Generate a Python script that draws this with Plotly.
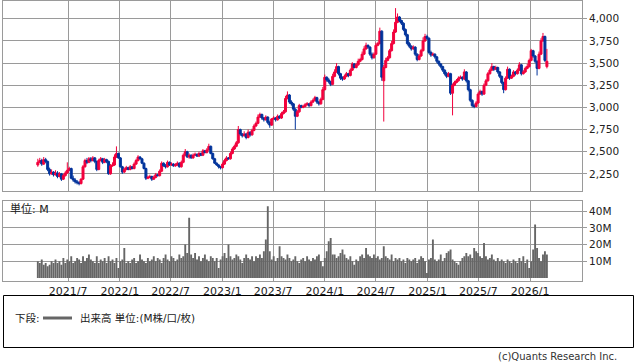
import plotly.graph_objects as go
import pandas as pd

W, H = 638, 362

start_week = "2021-03-15"

opens = [
    2350, 2380, 2400, 2360, 2410, 2390, 2300, 2250, 2270, 2240,
    2260, 2220, 2250, 2190, 2230, 2260, 2290, 2310, 2200, 2180,
    2160, 2150, 2140, 2190, 2330, 2400, 2380, 2420, 2400, 2430,
    2390, 2300, 2400, 2420, 2380, 2410, 2390, 2250, 2340, 2350,
    2440, 2480, 2430, 2330, 2270, 2300, 2320, 2300, 2330, 2310,
    2360, 2400, 2440, 2420, 2370, 2310, 2200, 2210, 2220, 2190,
    2210, 2240, 2230, 2280, 2370, 2340, 2330, 2380, 2350, 2360,
    2340, 2350, 2370, 2330, 2380, 2460, 2500, 2440, 2460, 2430,
    2460, 2470, 2450, 2480, 2460, 2510, 2490, 2520, 2560, 2480,
    2420, 2370, 2350, 2330, 2320, 2360, 2400, 2430, 2420, 2480,
    2530, 2560, 2600, 2750, 2700, 2680, 2700, 2660, 2720, 2690,
    2740, 2790, 2820, 2890, 2920, 2880, 2860, 2890, 2830, 2800,
    2870, 2880, 2860, 2900, 2880, 2930, 2950, 3100, 3140, 3060,
    3040, 2980, 2900, 2950, 3020, 3000, 3010, 3030, 3040, 3020,
    3060, 3080, 3110, 3060, 3040, 3090, 3200, 3340, 3310, 3290,
    3260, 3350, 3400, 3460, 3380, 3330, 3320, 3350, 3380, 3360,
    3420, 3490, 3450, 3480, 3520, 3540, 3600, 3660, 3700, 3680,
    3600, 3560, 3600, 3700, 3720, 3860, 3300, 3450, 3530, 3560,
    3640, 3720, 3850, 3960, 4020, 3980, 3950, 3880, 3820, 3720,
    3690, 3660, 3680, 3600, 3540, 3580, 3640, 3750, 3800, 3780,
    3620, 3590, 3600, 3570, 3520, 3490, 3460, 3420, 3380, 3350,
    3380, 3160, 3250, 3280, 3300, 3330, 3340, 3320, 3400, 3300,
    3200, 3080, 3020, 3010, 3050, 3150, 3180, 3150, 3250, 3300,
    3380, 3420, 3460, 3430, 3450, 3400, 3350, 3280, 3200, 3330,
    3430, 3330, 3350, 3400, 3380, 3420, 3480, 3380, 3400, 3440,
    3460, 3530, 3640, 3580, 3520, 3440, 3600, 3750, 3800, 3460,
]

highs = [
    2420, 2430, 2420, 2440, 2430, 2400, 2320, 2300, 2280, 2290,
    2280, 2270, 2260, 2250, 2280, 2380, 2330, 2320, 2230, 2200,
    2180, 2170, 2200, 2350, 2420, 2430, 2440, 2440, 2450, 2440,
    2400, 2420, 2440, 2430, 2430, 2420, 2400, 2360, 2380, 2470,
    2560, 2490, 2440, 2340, 2320, 2340, 2330, 2350, 2340, 2380,
    2420, 2460, 2450, 2430, 2380, 2320, 2230, 2240, 2230, 2230,
    2260, 2250, 2300, 2390, 2380, 2360, 2400, 2390, 2380, 2370,
    2370, 2390, 2380, 2400, 2480, 2530, 2510, 2480, 2470, 2480,
    2490, 2480, 2500, 2490, 2530, 2520, 2540, 2590, 2570, 2490,
    2430, 2380, 2360, 2340, 2380, 2420, 2450, 2440, 2500, 2550,
    2580, 2620, 2790, 2760, 2710, 2730, 2710, 2750, 2730, 2760,
    2810, 2840, 2920, 2940, 2930, 2890, 2910, 2900, 2850, 2880,
    2900, 2890, 2920, 2910, 2950, 2970, 3130, 3180, 3150, 3080,
    3050, 2990, 2970, 3040, 3030, 3030, 3050, 3060, 3050, 3080,
    3100, 3130, 3120, 3070, 3110, 3230, 3370, 3350, 3330, 3300,
    3380, 3430, 3500, 3470, 3390, 3350, 3370, 3400, 3390, 3440,
    3510, 3500, 3500, 3550, 3560, 3630, 3690, 3730, 3710, 3690,
    3620, 3620, 3730, 3740, 3900, 3870, 3480, 3560, 3580, 3660,
    3750, 3880, 4120, 4060, 4030, 3990, 3960, 3890, 3830, 3740,
    3700, 3700, 3690, 3610, 3600, 3660, 3790, 3830, 3820, 3790,
    3640, 3620, 3610, 3580, 3530, 3500, 3470, 3430, 3400, 3400,
    3390, 3270, 3300, 3320, 3350, 3360, 3350, 3430, 3410, 3310,
    3210, 3090, 3040, 3070, 3170, 3200, 3190, 3270, 3320, 3400,
    3440, 3500, 3470, 3470, 3460, 3410, 3360, 3290, 3350, 3460,
    3440, 3370, 3420, 3410, 3440, 3510, 3490, 3420, 3460, 3490,
    3550, 3660, 3650, 3590, 3530, 3630, 3780, 3840, 3810, 3660,
]

lows = [
    2330, 2370, 2340, 2350, 2370, 2280, 2230, 2240, 2220, 2230,
    2200, 2210, 2170, 2180, 2220, 2250, 2280, 2190, 2160, 2140,
    2130, 2120, 2130, 2180, 2320, 2360, 2370, 2380, 2390, 2370,
    2280, 2290, 2390, 2360, 2370, 2370, 2240, 2240, 2330, 2340,
    2430, 2420, 2320, 2250, 2260, 2290, 2290, 2290, 2300, 2300,
    2350, 2390, 2410, 2360, 2300, 2180, 2190, 2200, 2170, 2180,
    2200, 2220, 2220, 2270, 2330, 2310, 2320, 2340, 2340, 2330,
    2330, 2340, 2320, 2320, 2370, 2450, 2430, 2420, 2420, 2420,
    2450, 2440, 2440, 2450, 2450, 2480, 2480, 2510, 2470, 2410,
    2360, 2340, 2310, 2300, 2310, 2350, 2390, 2410, 2410, 2470,
    2520, 2550, 2590, 2680, 2660, 2670, 2640, 2650, 2670, 2680,
    2730, 2780, 2810, 2880, 2860, 2840, 2850, 2810, 2770, 2790,
    2860, 2840, 2850, 2870, 2870, 2920, 2940, 3090, 3040, 3020,
    2960, 2750, 2890, 2940, 2990, 2990, 3000, 3020, 3000, 3010,
    3050, 3070, 3040, 3020, 3030, 3080, 3190, 3290, 3270, 3240,
    3250, 3340, 3390, 3360, 3310, 3300, 3310, 3340, 3340, 3350,
    3410, 3440, 3440, 3470, 3510, 3530, 3590, 3650, 3660, 3580,
    3540, 3550, 3590, 3690, 3710, 3300, 2840, 3440, 3520, 3550,
    3630, 3710, 3840, 3950, 3960, 3930, 3860, 3800, 3700, 3670,
    3640, 3650, 3580, 3520, 3530, 3570, 3630, 3740, 3760, 3600,
    3570, 3580, 3550, 3500, 3470, 3440, 3400, 3360, 3330, 3340,
    3140, 2910, 3240, 3270, 3290, 3320, 3300, 3310, 3280, 3180,
    3060, 3000, 2990, 3000, 3040, 3140, 3130, 3140, 3240, 3290,
    3370, 3410, 3410, 3420, 3380, 3330, 3260, 3160, 3190, 3320,
    3310, 3320, 3340, 3360, 3370, 3410, 3360, 3370, 3390, 3430,
    3450, 3520, 3560, 3500, 3360, 3430, 3590, 3740, 3510, 3440,
]

closes = [
    2380, 2400, 2360, 2410, 2390, 2300, 2250, 2270, 2240, 2260,
    2220, 2250, 2190, 2230, 2260, 2290, 2310, 2200, 2180, 2160,
    2150, 2140, 2190, 2330, 2400, 2380, 2420, 2400, 2430, 2390,
    2300, 2400, 2420, 2380, 2410, 2390, 2250, 2340, 2350, 2440,
    2480, 2430, 2330, 2270, 2300, 2320, 2300, 2330, 2310, 2360,
    2400, 2440, 2420, 2370, 2310, 2200, 2210, 2220, 2190, 2210,
    2240, 2230, 2280, 2370, 2340, 2330, 2380, 2350, 2360, 2340,
    2350, 2370, 2330, 2380, 2460, 2500, 2440, 2460, 2430, 2460,
    2470, 2450, 2480, 2460, 2510, 2490, 2520, 2560, 2480, 2420,
    2370, 2350, 2330, 2320, 2360, 2400, 2430, 2420, 2480, 2530,
    2560, 2600, 2750, 2700, 2680, 2700, 2660, 2720, 2690, 2740,
    2790, 2820, 2890, 2920, 2880, 2860, 2890, 2830, 2800, 2870,
    2880, 2860, 2900, 2880, 2930, 2950, 3100, 3140, 3060, 3040,
    2980, 2900, 2950, 3020, 3000, 3010, 3030, 3040, 3020, 3060,
    3080, 3110, 3060, 3040, 3090, 3200, 3340, 3310, 3290, 3260,
    3350, 3400, 3460, 3380, 3330, 3320, 3350, 3380, 3360, 3420,
    3490, 3450, 3480, 3520, 3540, 3600, 3660, 3700, 3680, 3600,
    3560, 3600, 3700, 3720, 3860, 3340, 3450, 3530, 3560, 3640,
    3720, 3850, 3960, 4020, 3980, 3950, 3880, 3820, 3720, 3690,
    3660, 3680, 3600, 3540, 3580, 3640, 3750, 3800, 3780, 3620,
    3590, 3600, 3570, 3520, 3490, 3460, 3420, 3380, 3350, 3380,
    3160, 3250, 3280, 3300, 3330, 3340, 3320, 3400, 3300, 3200,
    3080, 3020, 3010, 3050, 3150, 3180, 3150, 3250, 3300, 3380,
    3420, 3460, 3430, 3450, 3400, 3350, 3280, 3200, 3330, 3430,
    3330, 3350, 3400, 3380, 3420, 3480, 3380, 3400, 3440, 3460,
    3530, 3640, 3580, 3520, 3440, 3600, 3750, 3800, 3530, 3520,
]

volumes_m = [
    10, 9, 11, 8, 9, 7, 8, 10, 9, 11,
    9, 10, 8, 12, 9, 11, 10, 13, 9, 10,
    12, 11, 9, 13, 10, 12, 14, 11, 10, 9,
    13, 9, 11, 10, 12, 9, 13, 10, 11, 9,
    12, 6, 10, 11, 18, 9, 10, 9, 11, 12,
    9, 10, 14, 11, 10, 9, 12, 10, 11, 13,
    10, 12, 11, 9, 12, 14, 11, 10, 13, 12,
    10, 11, 14, 12, 13, 20, 15, 36, 14, 12,
    15, 11, 13, 10, 12, 14, 11, 10, 13, 12,
    10, 12, 6, 11, 13, 15, 12, 20, 13, 11,
    12, 14, 13, 11, 9, 12, 14, 12, 11, 13,
    10, 13, 12, 14, 12, 16, 23, 43, 16, 11,
    13, 10, 12, 19, 13, 12, 11, 14, 12, 10,
    11, 13, 10, 9, 11, 12, 10, 13, 11, 10,
    12, 11, 13, 14, 10, 7, 12, 16, 22, 24,
    14, 14, 12, 13, 15, 17, 14, 12, 11, 13,
    10, 8, 11, 10, 13, 14, 12, 18, 14, 13,
    12, 14, 12, 13, 11, 12, 19, 13, 12, 11,
    14, 10, 12, 11, 12, 10, 11, 9, 12, 11,
    10, 11, 12, 9, 11, 13, 12, 10, 3, 11,
    12, 23, 11, 10, 11, 14, 10, 12, 15, 16,
    17, 11, 10, 9, 8, 10, 12, 13, 15, 13,
    14, 12, 18, 16, 15, 13, 12, 21, 13, 11,
    12, 14, 11, 10, 12, 10, 11, 10, 9, 11,
    10, 9, 11, 10, 9, 12, 10, 13, 9, 11,
    6, 10, 17, 32, 18, 12, 10, 14, 16, 14,
]

tick_dates = ["2021-07-01", "2022-01-01", "2022-07-01", "2023-01-01", "2023-07-01",
              "2024-01-01", "2024-07-01", "2025-01-01", "2025-07-01", "2026-01-01"]
tick_labels = ["2021/7", "2022/1", "2022/7", "2023/1", "2023/7",
               "2024/1", "2024/7", "2025/1", "2025/7", "2026/1"]
price_ticks = [2250, 2500, 2750, 3000, 3250, 3500, 3750, 4000]
price_labels = ["2,250", "2,500", "2,750", "3,000", "3,250", "3,500", "3,750", "4,000"]
vol_ticks = [10, 20, 30, 40]
vol_labels = ["10M", "20M", "30M", "40M"]

n = len(closes)
assert len(opens) == n and len(highs) == n and len(lows) == n and len(volumes_m) == n, \
    (len(opens), len(highs), len(lows), len(closes), len(volumes_m))

dates = pd.date_range(start_week, periods=n, freq="7D")

RED = "#f2003c"
BLUE = "#00339b"
GRID = "#9a9a9a"
FONT = "DejaVu Sans, Noto Sans CJK JP, sans-serif"


def px_x(p):
    return p / W


def px_y(p):
    return 1 - p / H


fig = go.Figure()
fig.add_trace(go.Candlestick(
    x=dates, open=opens, high=highs, low=lows, close=closes,
    increasing=dict(line=dict(color=RED, width=1), fillcolor=RED),
    decreasing=dict(line=dict(color=BLUE, width=1), fillcolor=BLUE),
    whiskerwidth=0, xaxis="x", yaxis="y", showlegend=False, hoverinfo="skip",
))
fig.add_trace(go.Bar(
    x=dates, y=volumes_m, marker=dict(color="#666666", line=dict(width=0)),
    xaxis="x2", yaxis="y2", showlegend=False, hoverinfo="skip",
))

xrange = ["2020-11-11", "2026-07-05"]
xdom = [px_x(3), px_x(582)]
common_x = dict(
    range=xrange, domain=xdom, type="date", tickvals=tick_dates, ticktext=tick_labels,
    showgrid=True, gridcolor=GRID, gridwidth=1, showline=True, linecolor=GRID,
    linewidth=1, mirror=True, zeroline=False, ticks="", fixedrange=True,
)
fig.update_layout(
    width=W, height=H, margin=dict(l=0, r=0, t=0, b=0),
    paper_bgcolor="white", plot_bgcolor="white",
    font=dict(family=FONT, size=11, color="#222222"),
    boxgap=0, boxgroupgap=0, bargap=0.04,
    xaxis=dict(**common_x, anchor="y", showticklabels=False,
               rangeslider=dict(visible=False)),
    xaxis2=dict(**common_x, anchor="y2", matches="x", showticklabels=True,
                tickfont=dict(size=11, color="#222222")),
    yaxis=dict(domain=[px_y(190.5), px_y(0.5)], range=[2062, 4206], side="right",
               tickvals=price_ticks, ticktext=price_labels, showgrid=True,
               gridcolor=GRID, gridwidth=1, showline=True, linecolor=GRID, mirror=True,
               ticks="outside", ticklen=4, tickcolor=GRID, zeroline=False,
               tickfont=dict(size=10.5, color="#222222"), anchor="x", fixedrange=True),
    yaxis2=dict(domain=[px_y(280.5), px_y(200.5)], range=[-1.5, 46.4], side="right",
                tickvals=vol_ticks, ticktext=vol_labels, showgrid=True,
                gridcolor=GRID, gridwidth=1, showline=True, linecolor=GRID, mirror=True,
                ticks="outside", ticklen=4, tickcolor=GRID, zeroline=False,
                tickfont=dict(size=10.5, color="#222222"), anchor="x2", fixedrange=True),
)

fig.add_shape(type="rect", xref="paper", yref="paper",
              x0=px_x(3.5), x1=px_x(633.5), y0=px_y(347.5), y1=px_y(295.5),
              line=dict(color="#000000", width=1), fillcolor="rgba(0,0,0,0)")
fig.add_shape(type="line", xref="paper", yref="paper",
              x0=px_x(43), x1=px_x(72), y0=px_y(318), y1=px_y(318),
              line=dict(color="#666666", width=3))

fig.add_annotation(text="単位: M", xref="paper", yref="paper", x=px_x(8), y=px_y(209),
                   xanchor="left", yanchor="middle", showarrow=False,
                   font=dict(size=11, color="#222222"))
fig.add_annotation(text="下段:", xref="paper", yref="paper", x=px_x(13), y=px_y(318),
                   xanchor="left", yanchor="middle", showarrow=False,
                   font=dict(size=10.5, color="#222222"))
fig.add_annotation(text="出来高 単位:(M株/口/枚)", xref="paper", yref="paper",
                   x=px_x(78), y=px_y(318), xanchor="left", yanchor="middle",
                   showarrow=False, font=dict(size=10.5, color="#222222"))
fig.add_annotation(text="(c)Quants Research Inc.", xref="paper", yref="paper",
                   x=px_x(619), y=px_y(356), xanchor="right", yanchor="middle",
                   showarrow=False, font=dict(size=10, color="#333333"))

fig.write_html(
    "out.html",
    config={"displayModeBar": False, "staticPlot": True},
    post_script="document.body.style.margin='0';document.body.style.padding='0';"
                "document.body.style.overflow='hidden';",
)
